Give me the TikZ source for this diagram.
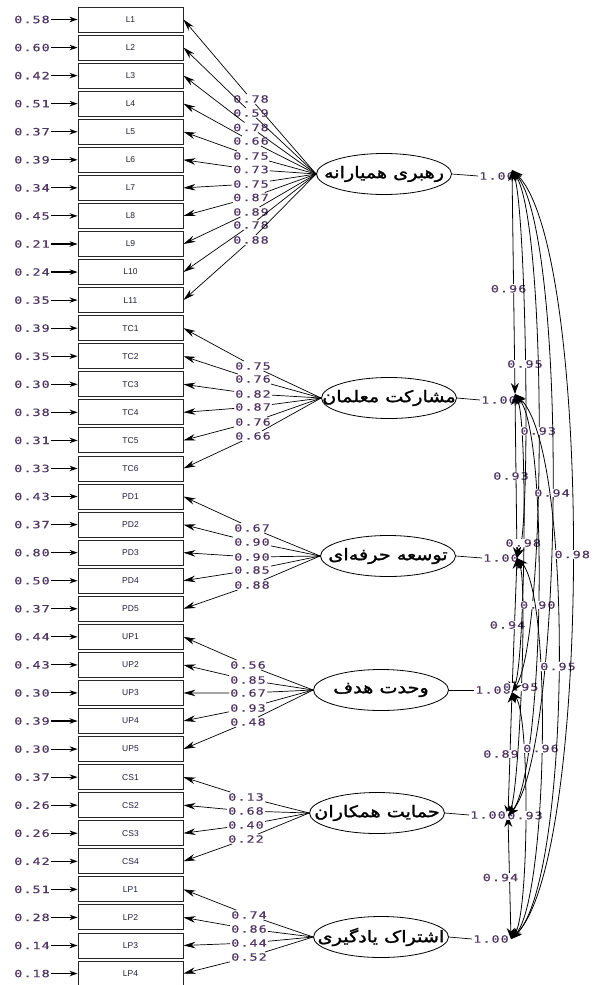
\documentclass[tikz,border=0pt]{standalone}
\usepackage{fontspec}
\setmainfont{Liberation Sans}
\newfontfamily\numfont[FakeStretch=1.35,LetterSpace=10,FakeBold=0.6]{DejaVu Sans Mono}
\newfontfamily\arabicfont[Script=Arabic,FakeBold=1.6,FakeStretch=1.2]{DejaVu Sans}
\TeXXeTstate=1
\usetikzlibrary{shapes.geometric,arrows.meta}
\definecolor{numc}{RGB}{80,55,100}
\definecolor{boxt}{RGB}{30,30,60}
\begin{document}
\begin{tikzpicture}[x=1pt,y=-1pt,
  box/.style={draw=black!85, line width=0.9pt, minimum width=105pt, minimum height=25pt, inner sep=0pt, font=\fontsize{8.5}{9}\selectfont, text=boxt},
  num/.style={font=\numfont\fontsize{10}{10}\selectfont, text=numc, inner sep=1pt},
  lat/.style={draw, ellipse, minimum width=135pt, minimum height=41pt, inner sep=0pt, line width=0.8pt, fill=white},
  ptxt/.style={font=\arabicfont\fontsize{16}{16}\selectfont},
  plain/.style={line width=0.7pt},
  load/.style={line width=0.7pt, -{Stealth[length=12pt,width=6.5pt]}},
  err/.style={line width=1.1pt, -{Stealth[length=8pt,width=5.5pt]}},
  cor/.style={line width=0.8pt, {Stealth[length=11pt,width=8pt]}-{Stealth[length=11pt,width=8pt]}},
  clab/.style={num, fill=white, inner sep=0.5pt}
]
\useasboundingbox (0,0) rectangle (594,985);

% observed variables and error terms
\foreach \i/\nm/\er in {0/L1/0.58,1/L2/0.60,2/L3/0.42,3/L4/0.51,4/L5/0.37,5/L6/0.39,6/L7/0.34,7/L8/0.45,8/L9/0.21,9/L10/0.24,10/L11/0.35,
  11/TC1/0.39,12/TC2/0.35,13/TC3/0.30,14/TC4/0.38,15/TC5/0.31,16/TC6/0.33,
  17/PD1/0.43,18/PD2/0.37,19/PD3/0.80,20/PD4/0.50,21/PD5/0.37,
  22/UP1/0.44,23/UP2/0.43,24/UP3/0.30,25/UP4/0.39,26/UP5/0.30,
  27/CS1/0.37,28/CS2/0.26,29/CS3/0.26,30/CS4/0.42,
  31/LP1/0.51,32/LP2/0.28,33/LP3/0.14,34/LP4/0.18}{
  \node[box] (b\i) at (130.5,{19.5+28.06*\i}) {\nm};
  \node[num] (e\i) at (32,{19.5+28.06*\i}) {\er};
  \draw[err] (e\i.east) -- (b\i.west);
}

% latent variables
\node[lat] (f1) at (384,174) {};
\node[ptxt] at (f1) {\beginR رهبری همیارانه\endR};
\node[lat] (f2) at (389,398) {};
\node[ptxt] at (f2) {\beginR مشارکت معلمان\endR};
\node[lat] (f3) at (388,556) {};
\node[ptxt] at (f3) {\beginR توسعه حرفه^^^^200cای\endR};
\node[lat] (f4) at (381,690) {};
\node[ptxt] at (f4) {\beginR وحدت هدف\endR};
\node[lat] (f5) at (377,813) {};
\node[ptxt] at (f5) {\beginR حمایت همکاران\endR};
\node[lat] (f6) at (381,937) {};
\node[ptxt] at (f6) {\beginR اشتراک یادگیری\endR};

% loadings
\foreach \i/\v/\x/\y/\f in {0/0.78/251/99/1,1/0.59/251/113/1,2/0.78/251/127.5/1,3/0.66/251/141/1,4/0.75/251/156/1,5/0.73/251/169.5/1,6/0.75/251/184/1,7/0.87/251/197.5/1,8/0.89/251/212/1,9/0.78/251/225/1,10/0.88/251/240/1,
  11/0.75/253/366/2,12/0.76/253/379/2,13/0.82/253/394/2,14/0.87/253/407/2,15/0.76/253/422/2,16/0.66/253/436/2,
  17/0.67/252/528/3,18/0.90/252/542/3,19/0.90/252/557/3,20/0.85/252/570/3,21/0.88/252/585/3,
  22/0.56/248/665/4,23/0.85/248/680/4,24/0.67/248/693/4,25/0.93/248/708/4,26/0.48/248/722/4,
  27/0.13/246/797/5,28/0.68/246/811/5,29/0.40/246/825/5,30/0.22/246/839/5,
  31/0.74/249/915/6,32/0.86/249/929/6,33/0.44/249/943/6,34/0.52/249/957/6}{
  \node[num] (ld\i) at (\x,\y) {\v};
  \draw[plain] (f\f.west) -- (ld\i);
  \draw[load] (ld\i) -- (b\i.east);
}

% variances
\node[num] (v1) at (497,176) {1.00};
\node[num] (v2) at (499,400) {1.00};
\node[num] (v3) at (501,558) {1.00};
\node[num] (v4) at (493,690) {1.00};
\node[num] (v5) at (488,815) {1.00};
\node[num] (v6) at (491,939) {1.00};
\foreach \k in {1,...,6}{\draw[plain] (f\k.east) -- (v\k.west);}

\coordinate (a1) at (512,170);
\coordinate (a2) at (515,394);
\coordinate (a3) at (517,558);
\coordinate (a4) at (512,692);
\coordinate (a5) at (508,816);
\coordinate (a6) at (511,939);

% correlations
\draw[cor] (a1) -- (a2) node[clab, pos=.53, xshift=-5] (r12) {0.96};
\draw[cor] (a2) -- (a3) node[clab, pos=.5, xshift=-5] (r23) {0.93};
\draw[cor] (a3) -- (a4) node[clab, pos=.5, xshift=-7] (r34) {0.94};
\draw[cor] (a4) -- (a5) node[clab, pos=.5, xshift=-9] (r45) {0.89};
\draw[cor] (a5) -- (a6) node[clab, pos=.5, xshift=-9] (r56) {0.94};
\draw[cor] (a1) .. controls +(14,39) and +(14,-39) .. (a3) node[clab, pos=.5] (r13) {0.95};
\draw[cor] (a2) .. controls +(13,30) and +(13,-30) .. (a4) node[clab, pos=.5] (r24) {0.98};
\draw[cor] (a3) .. controls +(11,26) and +(11,-26) .. (a5) node[clab, pos=.5] (r35) {0.95};
\draw[cor] (a4) .. controls +(18,25) and +(18,-25) .. (a6) node[clab, pos=.5] (r46) {0.93};
\draw[cor] (a1) .. controls +(35,52) and +(35,-52) .. (a4) node[clab, pos=.5] (r14) {0.93};
\draw[cor] (a2) .. controls +(35,42) and +(35,-42) .. (a5) node[clab, pos=.5] (r25) {0.90};
\draw[cor] (a3) .. controls +(36,38) and +(36,-38) .. (a6) node[clab, pos=.5] (r36) {0.96};
\draw[cor] (a1) .. controls +(56,65) and +(56,-65) .. (a5) node[clab, pos=.5] (r15) {0.94};
\draw[cor] (a2) .. controls +(60,55) and +(60,-55) .. (a6) node[clab, pos=.5] (r26) {0.95};
\draw[cor] (a1) .. controls +(81,77) and +(81,-77) .. (a6) node[clab, pos=.5] (r16) {0.98};
\end{tikzpicture}
\end{document}
